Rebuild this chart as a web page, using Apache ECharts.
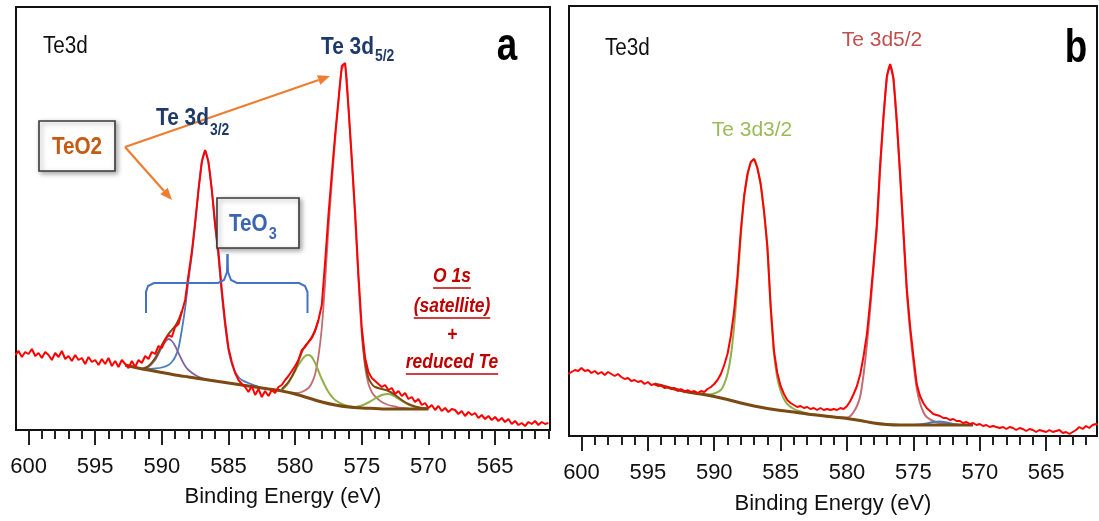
<!DOCTYPE html>
<html><head><meta charset="utf-8">
<script src="https://cdn.jsdelivr.net/npm/echarts@6/dist/echarts.min.js"></script>
<style>html,body{margin:0;padding:0;background:#fff;}#c{width:1099px;height:521px;}</style>
</head><body><div id="c"></div>
<script>
// ---- measured energy grid (eV), both spectra ----
const GRID_START = 601.0;
const GRID_STEP = 0.25;

// ---- panel a: raw Te3d spectrum (a.u.) ----
const A_RAW = [75,79,73,78,76,81,74,77,72,78,75,70,77,73,79,71,74,69,75,70,
72,66,73,68,70,65,71,66,72,64,69,63,70,66,62,69,63,70,67,74,
71,78,76,84,82,90,95,93,103,106,118,130,155,178,208,240,268,280,268,240,
205,178,140,108,82,68,57,50,46,43,38,44,35,41,33,39,34,40,37,43,
45,50,54,59,64,70,80,83,88,92,99,110,125,168,215,256,295,330,364,367,
323,272,218,155,102,72,58,52,49,46,43,45,40,42,36,39,34,37,31,33,
28,31,25,27,22,25,20,24,19,22,18,21,20,16,19,14,18,15,17,12,
15,11,14,10,13,9,12,8,11,6,9,5,7,4,8,6,9,5,8,6,7];

// ---- panel a: fitted components [eV, a.u.] ----
const A_BASELINE = [[592.75,65],[592,62.5],[591,60],[590,57.5],[589,55],[588,53],[587,51],[586,49],[585,47],[584,45],[583,43],[582,41],[581,39],[580,36],[579,32],[578,28],[577,25],[576,23],[575,22],[574,21.5],[573,21],[572,21],[571,21],[570,21]];
const A_TEO2_32 = [[591.5,60.5],[591,61],[590.5,61.5],[590,62.5],[589.5,65],[589.25,68],[589,73],[588.75,82],[588.5,100],[588.25,122],[588,150],[587.75,175],[587.5,205],[587.25,240],[587,268],[586.75,279],[586.5,267],[586.25,240],[586,205],[585.75,172],[585.5,135],[585.25,104],[585,80],[584.75,66],[584.5,58],[584.25,53],[584,50],[583.5,47],[583,44.5],[582.5,42]];
const A_TEO3_32 = [[591.5,60.5],[591,63],[590.5,70],[590.25,76],[590,83],[589.75,88],[589.5,91],[589.25,89],[589,84],[588.75,77],[588.5,70],[588.25,64],[588,60],[587.5,55],[587,52],[586.5,50]];
const A_TEO2_52 = [[580.5,37.5],[580,37],[579.5,38],[579,42],[578.75,47],[578.5,56],[578.25,74],[578,102],[577.75,148],[577.5,202],[577.25,247],[577,290],[576.75,328],[576.5,361],[576.25,365],[576,322],[575.75,268],[575.5,212],[575.25,150],[575,96],[574.75,63],[574.5,46],[574.25,38],[574,33.5],[573.5,28],[573,25],[572.5,23.5],[572,22],[571.5,21.5]];
const A_SAT1 = [[581.25,39],[581,40],[580.75,43],[580.5,47],[580.25,53],[580,59],[579.75,65],[579.5,70],[579.25,74],[579,75],[578.75,73],[578.5,67],[578.25,59],[578,51],[577.75,44],[577.5,38],[577.25,33.5],[577,30],[576.5,26],[576,24],[575.5,23]];
const A_SAT2 = [[575.5,23],[575,24.5],[574.5,27.5],[574,31.5],[573.5,35],[573,36],[572.5,33.5],[572,29],[571.5,25.5],[571,23],[570.5,22],[570,21.5]];
const A_ENVELOPE_1 = [[591.5,61],[591,64],[590.5,72],[590,85],[589.5,96],[589,104],[588.75,110],[588.5,119]];
const A_ENVELOPE_2 = [[581,41],[580.5,48],[580,60],[579.5,78],[579.25,84],[579,88],[578.75,93],[578.5,100],[578.25,110]];
const A_ENVELOPE_3 = [[575,100],[574.75,68],[574.5,52],[574.25,46],[574,43],[573.5,41],[573,39],[572.5,35],[572,30],[571.5,26],[571,23.5],[570.5,22],[570,21.5]];

// ---- panel b: raw Te3d spectrum (a.u.) ----
const B_RAW = [62,64,66,65,68,65,66,63,65,62,64,61,64,62,60,62,59,57,58,55,
56,54,55,52,54,51,52,50,51,48,49,47,48,45,47,44,46,44,45,43,
45,44,47,49,52,56,62,71,82,100,125,160,205,240,262,274,277,268,252,225,
190,130,85,63,50,42,36,33,31,29,30,28,29,27,28,26,28,26,27,26,
27,26,28,27,30,35,42,50,62,80,102,135,172,212,272,320,360,372,358,315,
262,205,148,110,80,52,40,33,28,25,22,21,20,18,18,16,17,15,15,13,
14,12,13,11,12,10,11,9,10,9,8,9,7,9,8,6,8,7,5,7,
6,4,6,5,4,6,4,5,6,3,4,2,4,6,9,7,10,8,11,12,11];

// ---- panel b: fitted components [eV, a.u.] ----
const B_BASELINE = [[594.5,52],[594,50.5],[593,47],[592,44],[591,42],[590,39.5],[589,36.5],[588,33],[587,30],[586,27.5],[585,25.5],[584,24],[583,22],[582,20.5],[581,19],[580,17.5],[579,15.5],[578,13],[577,11.5],[576,11],[575,11],[574,11],[573,11],[572,11],[571,11],[570.5,11]];
const B_TE_32 = [[592,44],[591,42],[590.5,41.5],[590,42.5],[589.5,46],[589.25,52],[589,62],[588.75,80],[588.5,110],[588.25,152],[588,200],[587.75,238],[587.5,260],[587.25,273],[587,277],[586.75,268],[586.5,251],[586.25,224],[586,188],[585.75,128],[585.5,82],[585.25,58],[585,45],[584.75,37],[584.5,32],[584,27],[583.5,24.5],[583,22.5],[582,20.5],[581,19]];
const B_TE_52 = [[582,20.5],[581,19],[580.5,18.5],[580,18.5],[579.75,20],[579.5,24],[579.25,30],[579,40],[578.75,62],[578.5,92],[578.25,128],[578,168],[577.75,208],[577.5,268],[577.25,318],[577,357],[576.75,371],[576.5,356],[576.25,313],[576,260],[575.75,202],[575.5,145],[575.25,105],[575,74],[574.75,48],[574.5,33],[574.25,24],[574,19],[573.5,15],[573,13],[572,11.5],[571,11]];
const B_MINOR = [[575,11],[574.5,11.5],[574,12.5],[573.5,14],[573,14.5],[572.5,13.5],[572,12],[571.5,11],[571,11]];

// ---- axis ticks ----
const MAJOR_TICKS = [600,595,590,585,580,575,570,565];
const MINOR_TICKS = [561,562,563,564,566,567,568,569,571,572,573,574,576,577,578,579,581,582,583,584,586,587,588,589,591,592,593,594,596,597,598,599];
const X_TITLE = 'Binding Energy (eV)';

// ---- build ----
const toPairs = arr => arr.map((v, i) => [GRID_START - GRID_STEP * i, v]);
const SANS = '"Liberation Sans", Arial, sans-serif';

const chart = echarts.init(document.getElementById('c'), null, {renderer: 'canvas'});

function xAxes(gi, min, max, margin, nameGap) {
  return [{
    gridIndex: gi, type: 'value', inverse: true, min: min, max: max, position: 'bottom',
    axisLine: {show: true, lineStyle: {color: '#111', width: 2}},
    axisTick: {show: true, customValues: MAJOR_TICKS, length: 15, lineStyle: {color: '#222', width: 2}},
    axisLabel: {show: true, customValues: MAJOR_TICKS, margin: margin, fontSize: 22, color: '#111', fontFamily: SANS},
    splitLine: {show: false},
    name: X_TITLE, nameLocation: 'middle', nameGap: nameGap,
    nameTextStyle: {fontSize: 22, color: '#111', fontFamily: SANS}
  }, {
    gridIndex: gi, type: 'value', inverse: true, min: min, max: max, position: 'bottom', offset: 0,
    axisLine: {show: false},
    axisTick: {show: true, customValues: MINOR_TICKS, length: 9, lineStyle: {color: '#222', width: 2}},
    axisLabel: {show: false},
    splitLine: {show: false}
  }];
}

function line(data, xi, yi, color, width, z, smooth, opacity) {
  return {type: 'line', data: data, xAxisIndex: xi, yAxisIndex: yi, showSymbol: false, symbol: 'none',
    smooth: smooth, z: z, silent: true, animation: false,
    lineStyle: {color: color, width: width, opacity: opacity == null ? 1 : opacity}};
}

const BLUE = '#4a7ebb', PURPLE = '#8064a2', GREEN = '#8fb04a', PINK = '#b9545a', BROWN = '#7b4a12', RED = '#ff0000';

const series = [
  line(A_TEO2_32, 0, 0, BLUE, 1.8, 2, 0.3),
  line(A_TEO3_32, 0, 0, PURPLE, 1.8, 2, 0.3),
  line(A_TEO2_52, 0, 0, PINK, 1.8, 2, 0.3, 0.85),
  line(A_SAT1, 0, 0, GREEN, 2, 2, 0.3),
  line(A_SAT2, 0, 0, GREEN, 2, 2, 0.3),
  line(A_ENVELOPE_1, 0, 0, BROWN, 2, 3, 0.3),
  line(A_ENVELOPE_2, 0, 0, BROWN, 2, 3, 0.3),
  line(A_ENVELOPE_3, 0, 0, BROWN, 2, 3, 0.3),
  line(A_BASELINE, 0, 0, BROWN, 3, 3, 0.3),
  line(toPairs(A_RAW), 0, 0, RED, 2, 5, false),
  line(B_TE_32, 2, 1, GREEN, 2, 2, 0.3),
  line(B_TE_52, 2, 1, PINK, 2, 2, 0.3, 0.85),
  line(B_MINOR, 2, 1, BLUE, 2, 2, 0.3),
  line(B_BASELINE, 2, 1, BROWN, 3, 3, 0.3),
  line(toPairs(B_RAW), 2, 1, RED, 2, 5, false)
];

// ---- annotations ----
const ctx = document.createElement('canvas').getContext('2d');
function tw(text, font) { ctx.font = font; return ctx.measureText(text).width; }

const G = [];
function txt(text, x, y, font, fill, align, sx, z) {
  G.push({type: 'text', z: z || 120, silent: true, x: x, y: y, scaleX: sx || 1,
    style: {text: text, x: 0, y: 0, font: font, fill: fill, align: align || 'left', verticalAlign: 'middle'}});
}
function subLabel(main, sub, x, y, subDy, mainFont, subFont, fill, sx) {
  txt(main, x, y, mainFont, fill, 'left', sx);
  txt(sub, x + tw(main, mainFont) * sx + 1, y + subDy, subFont, fill, 'left', sx);
}
function box(x, y, w, h) {
  G.push({type: 'rect', z: 110, silent: true, shape: {x: x, y: y, width: w, height: h},
    style: {fill: '#fff', stroke: '#3a3a3a', lineWidth: 1.6, shadowBlur: 5, shadowColor: 'rgba(0,0,0,0.35)', shadowOffsetX: 2, shadowOffsetY: 2}});
}
function arrow(x1, y1, x2, y2, color) {
  const dx = x2 - x1, dy = y2 - y1, L = Math.sqrt(dx * dx + dy * dy), ux = dx / L, uy = dy / L;
  const hl = 12, hw = 5, bx = x2 - ux * hl, by = y2 - uy * hl;
  G.push({type: 'line', z: 115, silent: true, shape: {x1: x1, y1: y1, x2: bx, y2: by}, style: {stroke: color, lineWidth: 2.2}});
  G.push({type: 'polygon', z: 115, silent: true, shape: {points: [[x2, y2], [bx - uy * hw, by + ux * hw], [bx + uy * hw, by - ux * hw]]}, style: {fill: color}});
}
function uline(text, cx, cy, font, color, sx) {
  txt(text, cx, cy, font, color, 'center', sx);
  const w = tw(text, font) * sx;
  G.push({type: 'line', z: 120, silent: true, shape: {x1: cx - w / 2, y1: cy + 12, x2: cx + w / 2, y2: cy + 12}, style: {stroke: color, lineWidth: 1.5}});
}

// panel a
txt('Te3d', 43, 47, '23px ' + SANS, '#111', 'left', 0.9);
txt('a', 507, 47, 'bold 46px ' + SANS, '#000', 'center', 0.8);
const NAVY = '#1f3a68';
subLabel('Te 3d', '5/2', 321, 47, 10, 'bold 24px ' + SANS, 'bold 16px ' + SANS, NAVY, 0.87);
subLabel('Te 3d', '3/2', 156, 118, 13, 'bold 24px ' + SANS, 'bold 16px ' + SANS, NAVY, 0.87);
box(39, 121, 76, 50);
txt('TeO2', 77, 148, 'bold 23px ' + SANS, '#c55a11', 'center', 0.9);
box(217, 198, 82, 50);
subLabel('TeO', '3', 229, 225, 10, 'bold 23px ' + SANS, 'bold 16px ' + SANS, '#3c65b0', 0.9);
const ORANGE = '#ed7d31';
arrow(125, 147, 330, 76, ORANGE);
arrow(125, 147, 172, 200, ORANGE);
// bracket
G.push({type: 'polyline', z: 115, silent: true, shape: {points: [[146, 313], [146, 292], [148, 286], [154, 283], [218, 283], [224, 280], [227, 272], [227.5, 254]]}, style: {stroke: '#4472c4', lineWidth: 2, fill: null}});
G.push({type: 'polyline', z: 115, silent: true, shape: {points: [[227.5, 254], [228, 272], [231, 280], [237, 283], [299, 283], [305, 286], [307.5, 292], [307.5, 313]]}, style: {stroke: '#4472c4', lineWidth: 2, fill: null}});
const DRED = '#c00000';
const RF = 'italic bold 21px ' + SANS;
uline('O 1s', 452, 276, RF, DRED, 0.83);
uline('(satellite)', 452, 306, RF, DRED, 0.83);
txt('+', 452, 335, RF, DRED, 'center', 0.83);
uline('reduced Te', 452, 362, RF, DRED, 0.83);

// panel b
txt('Te3d', 605, 49, '23px ' + SANS, '#111', 'left', 0.9);
txt('b', 1076, 49, 'bold 46px ' + SANS, '#000', 'center', 0.8);
txt('Te 3d5/2', 882, 40, '21px ' + SANS, '#c0504d', 'center');
txt('Te 3d3/2', 752, 130, '21px ' + SANS, '#9bbb59', 'center');

const option = {
  animation: false,
  backgroundColor: '#fff',
  grid: [
    {left: 16, top: 7, width: 534, height: 423, show: true, borderColor: '#111', borderWidth: 2, containLabel: false},
    {left: 569, top: 6, width: 528, height: 430, show: true, borderColor: '#111', borderWidth: 2, containLabel: false}
  ],
  xAxis: xAxes(0, 560.88, 600.94, 26, 56).concat(xAxes(1, 561.17, 600.94, 26, 57)),
  yAxis: [
    {gridIndex: 0, type: 'value', min: 0, max: 423, show: false},
    {gridIndex: 1, type: 'value', min: 0, max: 430, show: false}
  ],
  series: series,
  graphic: {elements: G}
};
chart.setOption(option);
</script>
</body></html>
